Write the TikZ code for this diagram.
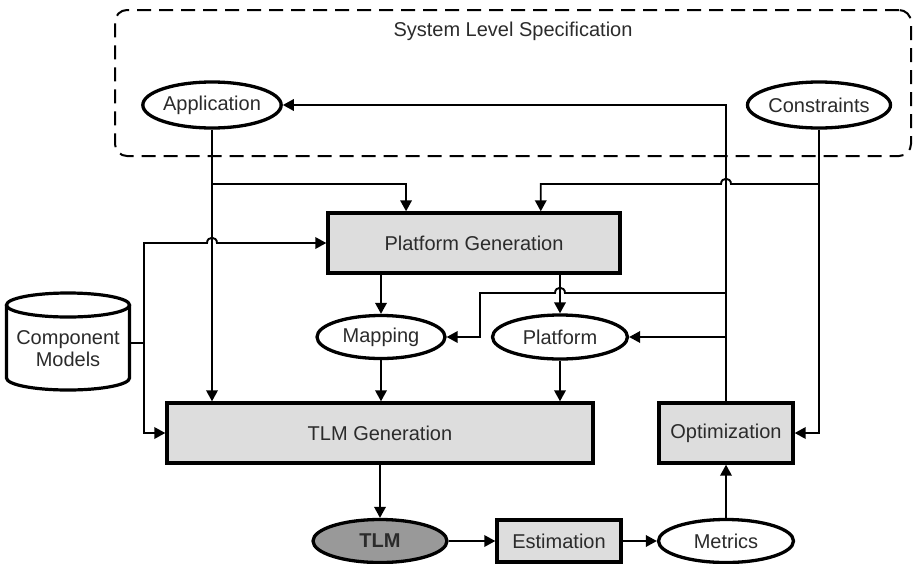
\documentclass[tikz,border=0pt]{standalone}
\usepackage{fontspec}
\setmainfont{Liberation Sans}
\usetikzlibrary{shapes.geometric,arrows.meta,calc}
\definecolor{boxgray}{HTML}{DDDDDD}
\definecolor{tlmgray}{HTML}{999999}
\definecolor{txt}{HTML}{2B2B2B}
\begin{document}
\begin{tikzpicture}[x=1pt,y=-1pt,
  font=\fontsize{20}{23}\selectfont, text=txt,
  box/.style={rectangle, draw=black, line width=3.4pt, fill=boxgray, inner sep=0pt},
  oval/.style={ellipse, draw=black, line width=3.3pt, fill=white, inner sep=0pt},
  conn/.style={line width=1.9pt, draw=black},
  arr/.style={conn, -{Triangle[length=11pt,width=11.5pt]}},
]
\useasboundingbox (0,0) rectangle (913,563);

% system level specification frame
\node[draw=black, dash pattern=on 14pt off 8pt, line width=2pt, rounded corners=12pt,
      minimum width=796pt, minimum height=146pt, inner sep=0pt] (spec) at (513,83) {};
\node (title) at (513,31) {System Level Specification};

% nodes
\node[oval, minimum width=137pt, minimum height=46pt] (app) at (212,105) {Application};
\node[oval, minimum width=137pt, minimum height=46pt] (cons) at (819,105) {Constraints};
\node[box, minimum width=292pt, minimum height=60pt] (pgen) at (474,243) {Platform Generation};
\node[oval, minimum width=128pt, minimum height=43pt] (map) at (381,337) {Mapping};
\node[oval, minimum width=135pt, minimum height=44pt] (plat) at (560,337) {Platform};
\node[box, minimum width=426pt, minimum height=60pt] (tgen) at (380,433) {TLM Generation};
\node[box, minimum width=134pt, minimum height=60pt] (opt) at (726,433) {Optimization};
\node[oval, fill=tlmgray, minimum width=134pt, minimum height=43pt] (tlm) at (380,541) {\bfseries TLM};
\node[box, minimum width=124pt, minimum height=42pt] (est) at (559,541) {Estimation};
\node[oval, minimum width=135pt, minimum height=43pt] (met) at (726,541) {Metrics};

% component models cylinder
\node[rectangle, inner sep=0pt, minimum width=123pt, minimum height=97pt] (comp) at (68,343) {};
\draw[line width=3.2pt, fill=white] (6.5,305) -- (6.5,378)
  arc[start angle=180, end angle=360, x radius=61.5pt, y radius=12pt] -- (129.5,305);
\draw[line width=3.2pt, fill=white] (68,305) ellipse[x radius=61.5pt, y radius=12pt];
\node[align=center, inner sep=0pt] (compt) at (68,349) {Component\\[-1pt]Models};

% junction coordinates
\coordinate (jA) at (212,184);
\coordinate (jC) at (819,184);
\coordinate (jM) at (144,343);
\coordinate (fb1) at (726,293);
\coordinate (fbL) at (480,293);
\coordinate (fb2) at (726,337);
\coordinate (pgA) at ($(pgen.north west)!0.27!(pgen.north east)$);
\coordinate (pgC) at ($(pgen.north west)!0.726!(pgen.north east)$);

% feedback from optimization to application
\draw[arr] (opt.north) |- (app.east);
% constraints to optimization
\draw[arr] (cons.south) |- (opt.east);
% application to platform generation
\draw[arr] (jA) -| (pgA);
% constraints to platform generation (jump over optimization line)
\draw[arr] (jC) -- ($(opt.north |- jC)+(5,0)$)
  .. controls ($(opt.north |- jC)+(5,-7)$) and ($(opt.north |- jC)+(-5,-7)$) .. ($(opt.north |- jC)+(-5,0)$)
  -| (pgC);
% application to TLM generation
\draw[arr] (app.south) -- (app.south |- tgen.north);
% component models
\draw[conn] (comp.east) -- (jM);
\draw[arr] (jM) |- (tgen.west);
\draw[arr] (jM) -- (jM |- pgen.west) -- ($(app.south |- pgen.west)+(-5,0)$)
  .. controls ($(app.south |- pgen.west)+(-5,-7)$) and ($(app.south |- pgen.west)+(5,-7)$) .. ($(app.south |- pgen.west)+(5,0)$)
  -- (pgen.west);
% platform generation outputs
\draw[arr] (map.north |- pgen.south) -- (map.north);
\draw[arr] (plat.north |- pgen.south) -- (plat.north);
% optimization feedback to mapping and platform
\draw[arr] (fb1) -- ($(plat.north |- fb1)+(5,0)$)
  .. controls ($(plat.north |- fb1)+(5,-7)$) and ($(plat.north |- fb1)+(-5,-7)$) .. ($(plat.north |- fb1)+(-5,0)$)
  -- (fbL) |- (map.east);
\draw[arr] (fb2) -- (plat.east);
% to TLM generation
\draw[arr] (map.south) -- (map.south |- tgen.north);
\draw[arr] (plat.south) -- (plat.south |- tgen.north);
% bottom chain
\draw[arr] (tgen.south -| tlm.north) -- (tlm.north);
\draw[arr] (tlm.east) -- (est.west);
\draw[arr] (est.east) -- (met.west);
\draw[arr] (met.north) -- (opt.south);
\end{tikzpicture}
\end{document}
